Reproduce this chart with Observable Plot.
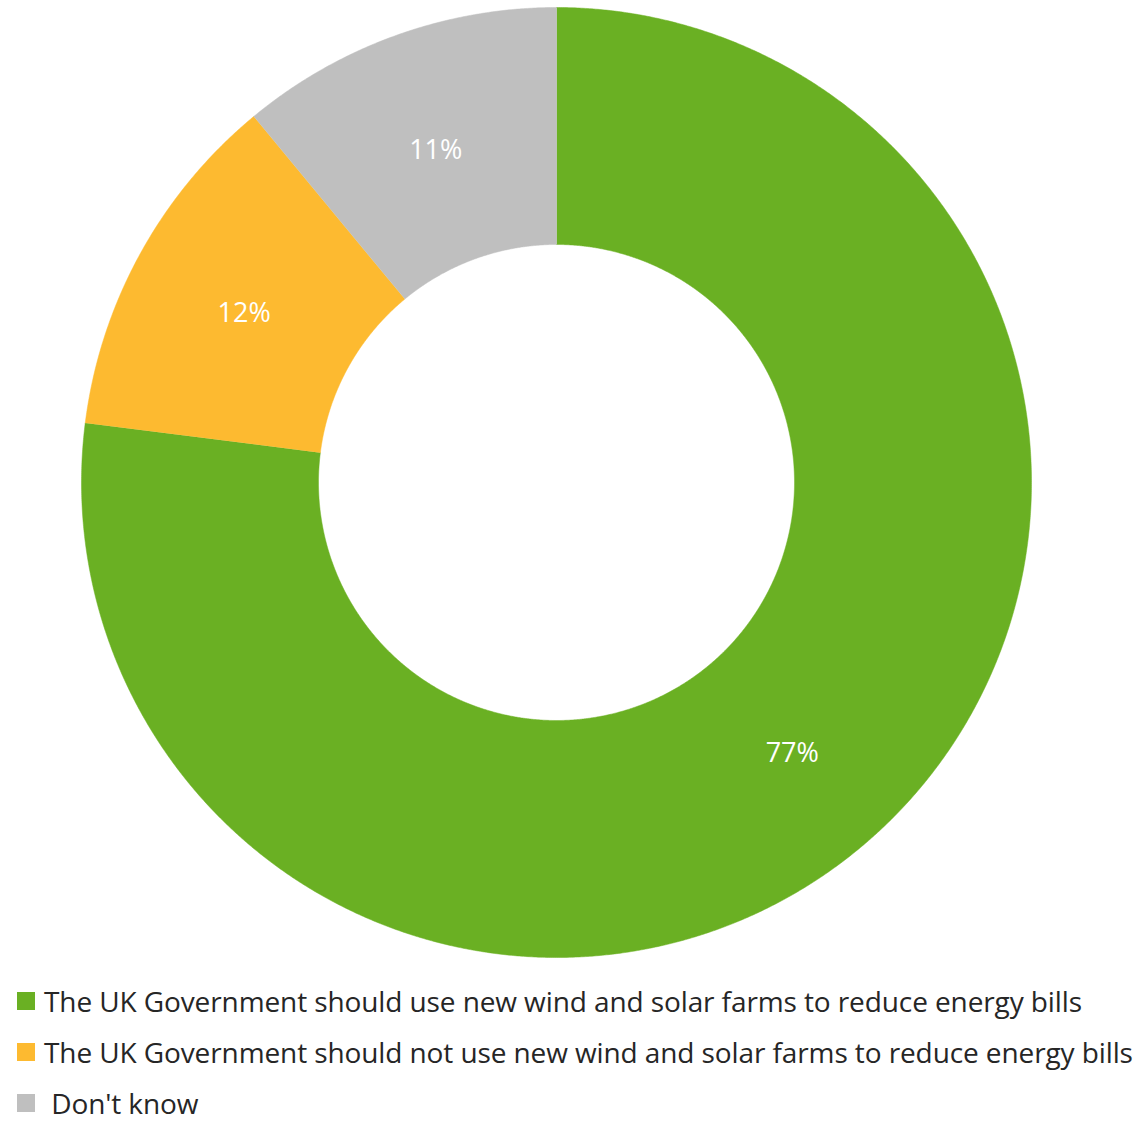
<!DOCTYPE html>
<html>
<head>
<meta charset="utf-8">
<script src="https://cdn.jsdelivr.net/npm/d3@7"></script>
<script src="https://cdn.jsdelivr.net/npm/@observablehq/plot@0.6"></script>
<style>
  html, body { margin: 0; padding: 0; background: #ffffff; overflow: hidden; }
  #chart svg { display: block; }
  .legend { padding-top: 23px; font-family: "Open Sans", sans-serif; font-size: 28px; color: #262626; letter-spacing: -0.1px; }
  .row { display: flex; align-items: center; height: 26px; margin-bottom: 25px; }
  .row:last-child { margin-bottom: 0; }
  .sw { width: 18px; height: 18px; margin-left: 17px; margin-right: 9px; flex: none; }
  .lbl { white-space: pre; display: inline-block; height: 26px; line-height: 26px; }
</style>
</head>
<body>
<div id="chart"></div>
<div class="legend" id="legend"></div>
<script>
const categories = [
  "The UK Government should use new wind and solar farms to reduce energy bills",
  "The UK Government should not use new wind and solar farms to reduce energy bills",
  " Don't know"
];
const values = [77, 12, 11];
const labels = ["77%", "12%", "11%"];
const colors = ["#6AB023", "#FDBA30", "#BFBFBF"];

const innerRatio = 238 / 475;

const pie = d3.pie().sort(null).value(d => d.value)(
  categories.map((c, i) => ({cat: c, value: values[i], label: labels[i]}))
);

const pts = [];
for (const s of pie) {
  const n = Math.max(2, Math.ceil((s.endAngle - s.startAngle) / (Math.PI / 720)));
  for (let k = 0; k <= n; k++) {
    const a = s.startAngle + (s.endAngle - s.startAngle) * k / n;
    pts.push({cat: s.data.cat, x: Math.sin(a), y: Math.cos(a)});
  }
  for (let k = n; k >= 0; k--) {
    const a = s.startAngle + (s.endAngle - s.startAngle) * k / n;
    pts.push({cat: s.data.cat, x: innerRatio * Math.sin(a), y: innerRatio * Math.cos(a)});
  }
}
const rLab = (1 + innerRatio) / 2;
const labs = pie.map(s => {
  const a = (s.startAngle + s.endAngle) / 2;
  return {label: s.data.label, x: rLab * Math.sin(a), y: rLab * Math.cos(a)};
});

const chart = Plot.plot({
  width: 1145,
  height: 965,
  marginLeft: 81,
  marginRight: 114,
  marginTop: 7,
  marginBottom: 8,
  x: {domain: [-1, 1], axis: null},
  y: {domain: [-1, 1], axis: null},
  color: {domain: categories, range: colors},
  style: {fontFamily: "Open Sans, sans-serif", background: "#ffffff"},
  marks: [
    Plot.line(pts, {x: "x", y: "y", z: "cat", fill: "cat", stroke: "cat", strokeWidth: 0.5}),
    Plot.text(labs, {x: "x", y: "y", text: "label", fill: "white", fontSize: 27, dy: 3})
  ]
});
document.getElementById("chart").appendChild(chart);

const leg = document.getElementById("legend");
categories.forEach((c, i) => {
  const row = document.createElement("div");
  row.className = "row";
  const sw = document.createElement("div");
  sw.className = "sw";
  sw.style.background = colors[i];
  const t = document.createElement("span");
  t.className = "lbl";
  t.textContent = c;
  row.appendChild(sw);
  row.appendChild(t);
  leg.appendChild(row);
});
</script>
</body>
</html>
